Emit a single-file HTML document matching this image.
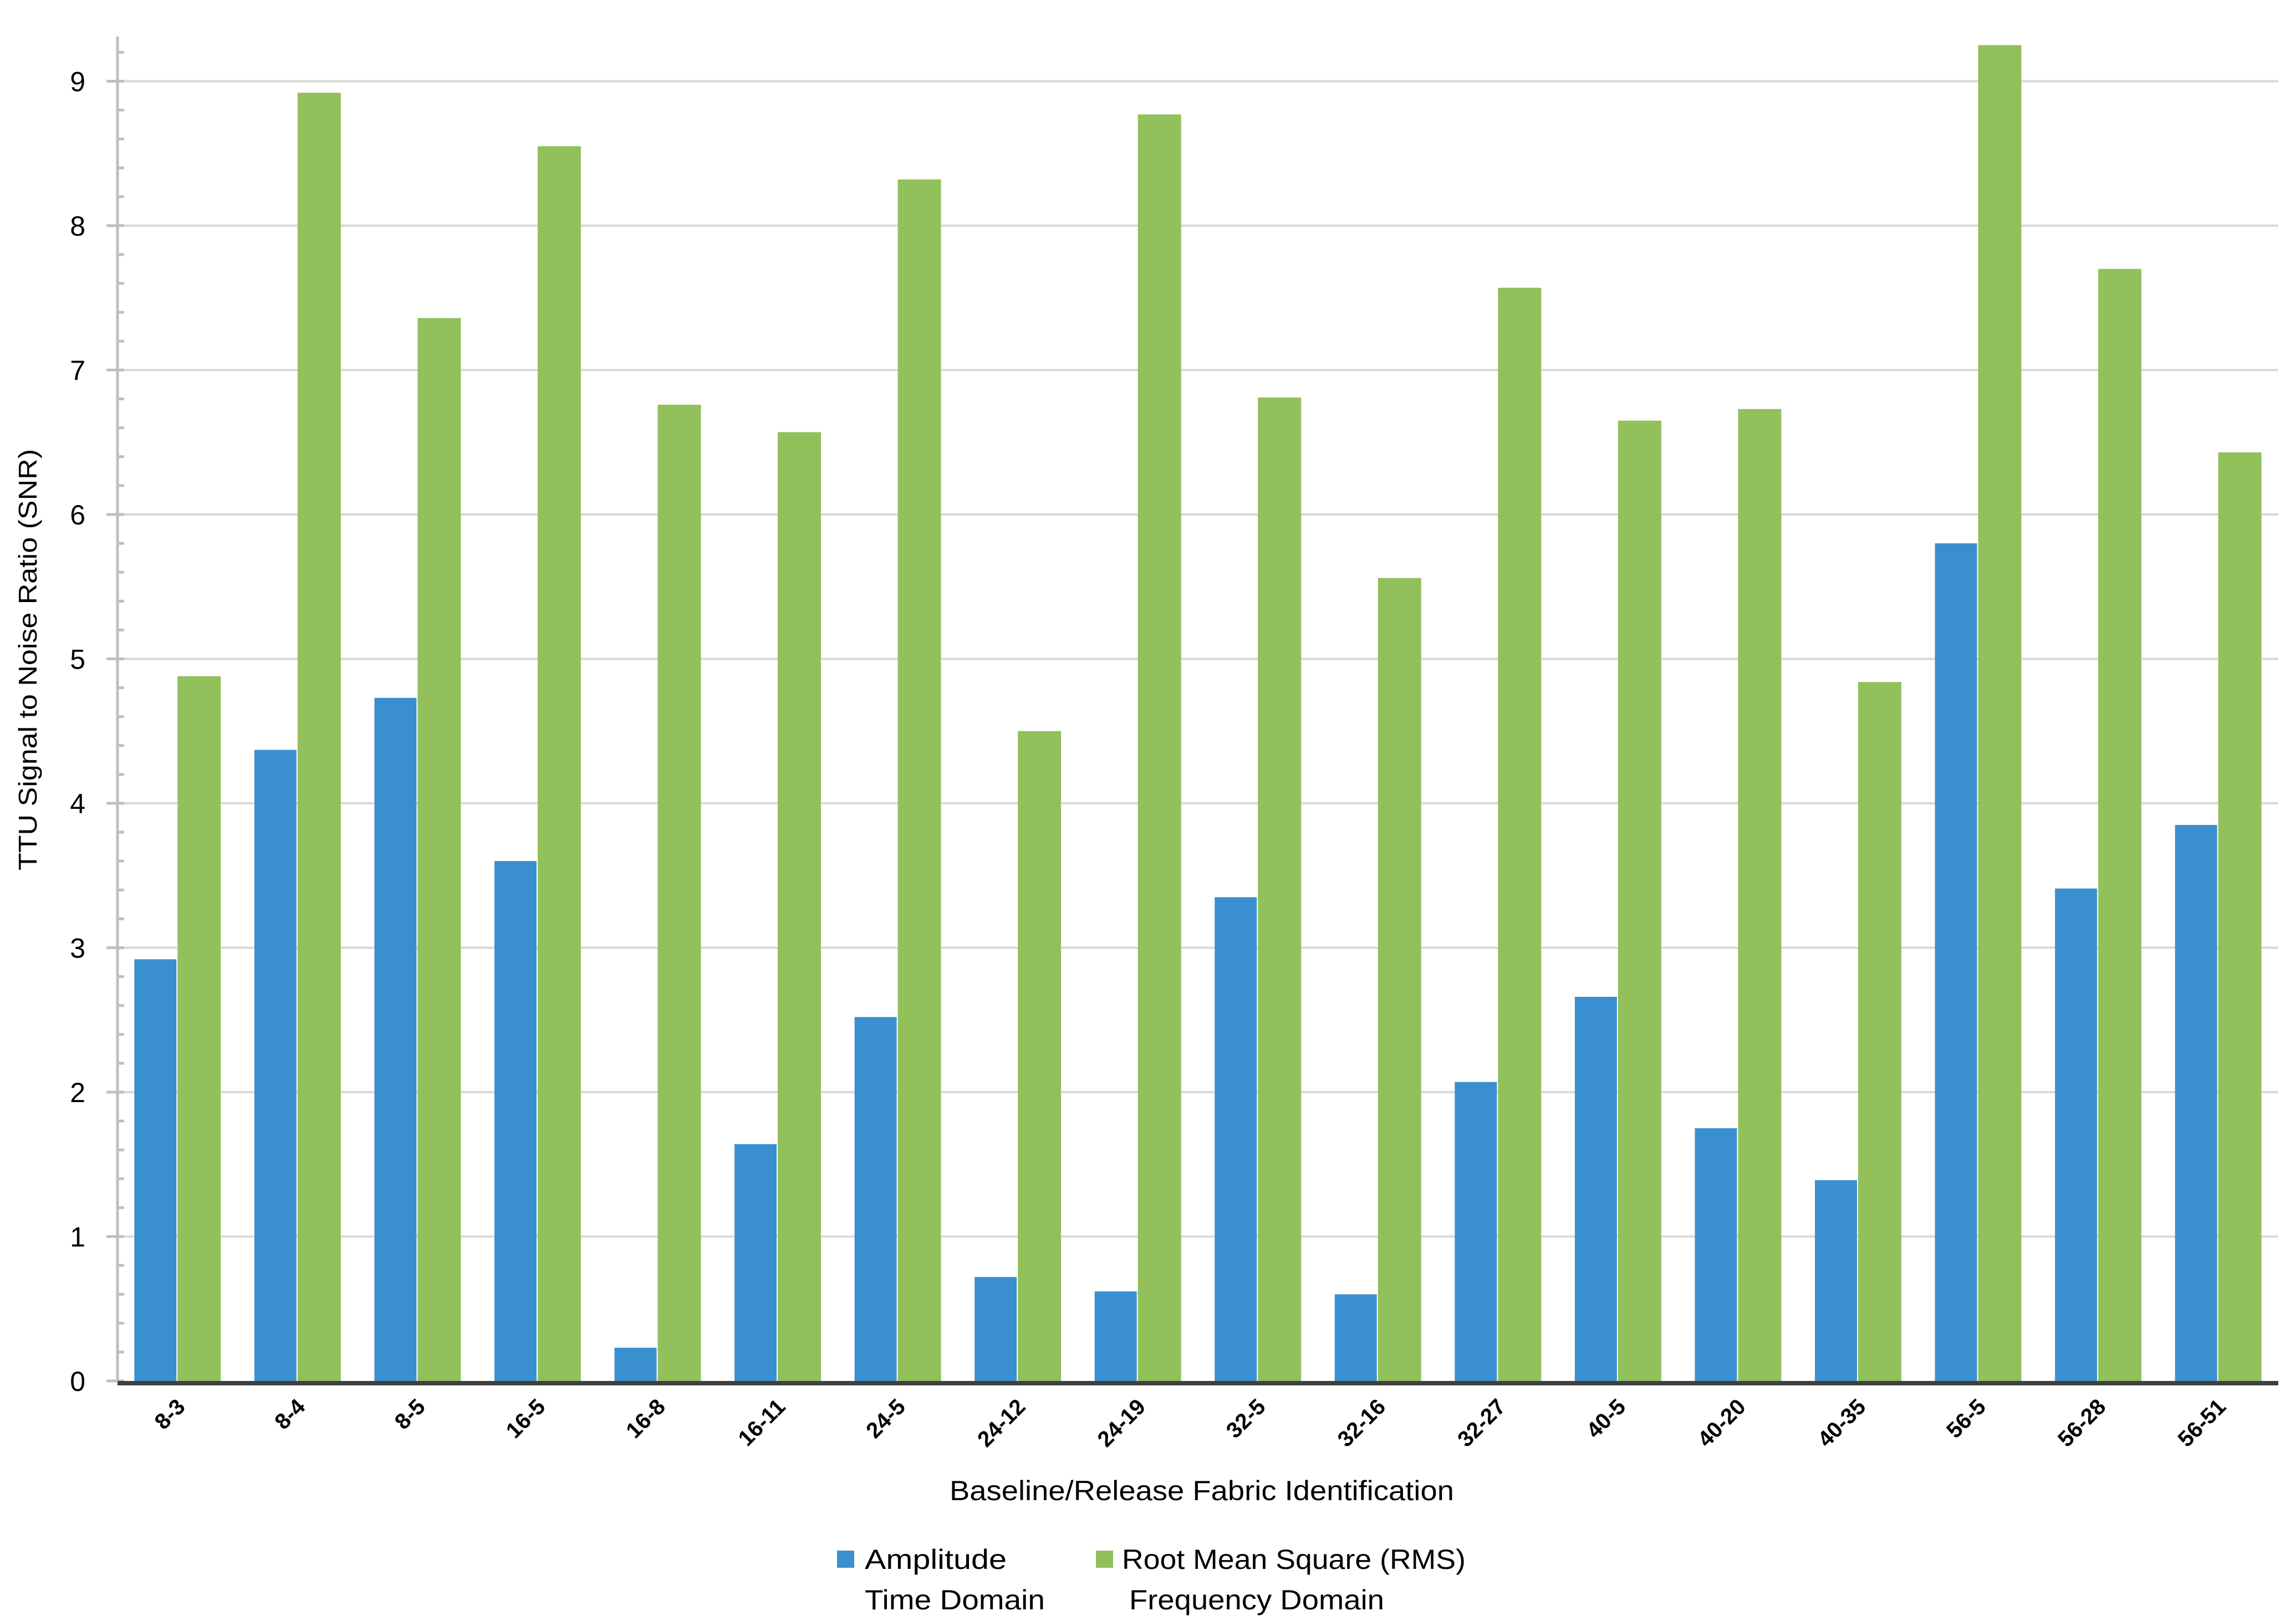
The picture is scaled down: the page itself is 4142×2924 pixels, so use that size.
<!DOCTYPE html>
<html><head><meta charset="utf-8"><style>
html,body{margin:0;padding:0;background:#fff;}
svg{display:block;font-family:"Liberation Sans",sans-serif;}
</style></head><body>
<svg id="chart" width="4142" height="2924" viewBox="0 0 4142 2924" xmlns="http://www.w3.org/2000/svg">
<rect width="4142" height="2924" fill="#fff"/>
<g id="grid"></g>
<g id="bars"></g>
<g id="axes"></g>
<text x="0" y="0" transform="translate(66,1190) rotate(-90)" text-anchor="middle" font-size="46" fill="#000" textLength="760" lengthAdjust="spacingAndGlyphs">TTU Signal to Noise Ratio (SNR)</text>
<text x="2168" y="2706" text-anchor="middle" font-size="50" fill="#000" textLength="910" lengthAdjust="spacingAndGlyphs">Baseline/Release Fabric Identification</text>
<g>
<g>
<rect x="1510" y="2797" width="31" height="31" fill="#3a8fd0"/>
<text x="1560" y="2830" font-size="50" textLength="256" lengthAdjust="spacingAndGlyphs">Amplitude</text>
<text x="1560" y="2903" font-size="50" textLength="325" lengthAdjust="spacingAndGlyphs">Time Domain</text>
</g>
<g>
<rect x="1977" y="2797" width="31" height="31" fill="#92c05a"/>
<text x="2024" y="2830" font-size="50" textLength="620" lengthAdjust="spacingAndGlyphs">Root Mean Square (RMS)</text>
<text x="2037" y="2903" font-size="50" textLength="460" lengthAdjust="spacingAndGlyphs">Frequency Domain</text>
</g>
</g>
</svg>
<script>
const categories = ["8-3","8-4","8-5","16-5","16-8","16-11","24-5","24-12","24-19","32-5","32-16","32-27","40-5","40-20","40-35","56-5","56-28","56-51"];
const amplitudeValues = [2.92,4.37,4.73,3.6,0.23,1.64,2.52,0.72,0.62,3.35,0.6,2.07,2.66,1.75,1.39,5.8,3.41,3.85];
const rmsValues = [4.88,8.92,7.36,8.55,6.76,6.57,8.32,4.5,8.77,6.81,5.56,7.57,6.65,6.73,4.84,9.25,7.7,6.43];
const yTicks = [0,1,2,3,4,5,6,7,8,9];

const NS = "http://www.w3.org/2000/svg";
const plotL = 212, plotR = 4110, zeroY = 2491, unit = 260.5, topY = 66;
function yScale(v){ return zeroY - v*unit; }
const catW = (plotR - plotL)/categories.length;
function xCenter(i){ return plotL + catW*(i+0.5); }
const barW = catW*0.36;
function mk(tag, attrs, parent){ const e=document.createElementNS(NS,tag); for(const k in attrs) e.setAttribute(k,attrs[k]); parent.appendChild(e); return e; }

const grid = document.getElementById('grid');
const bars = document.getElementById('bars');
const axes = document.getElementById('axes');

yTicks.forEach(t=>{
  if(t>0){
    const g = mk('line',{x1:plotL,x2:plotR,y1:yScale(t),y2:yScale(t),stroke:'#d9d9d9','stroke-width':4},grid);
    
    
  }
  const tk = mk('line',{x1:plotL-20,x2:plotL+12,y1:yScale(t),y2:yScale(t),stroke:'#bfbfbf','stroke-width':5},axes);
  
  
  const lb = mk('text',{x:154,y:yScale(t)+18,'text-anchor':'end','font-size':50,fill:'#000'},axes);
  lb.textContent = t;
  
  
  for(let m=1;m<5;m++){
    const v=t+m*0.2;
    if(yScale(v)<topY) break;
    const mt = mk('line',{x1:plotL,x2:plotL+12,y1:yScale(v),y2:yScale(v),stroke:'#bfbfbf','stroke-width':5},axes);
    
    
  }
});
const ya = mk('line',{x1:plotL,x2:plotL,y1:topY,y2:zeroY,stroke:'#bfbfbf','stroke-width':5},axes);



categories.forEach((c,i)=>{
  const cx = xCenter(i);
  const a = amplitudeValues[i], r = rmsValues[i];
  const b1 = mk('rect',{x:cx-barW,y:yScale(a),width:barW-2,height:zeroY-yScale(a),fill:'#3a8fd0'},bars);
  
  
  const b2 = mk('rect',{x:cx,y:yScale(r),width:barW,height:zeroY-yScale(r),fill:'#92c05a'},bars);
  
  
  const lb = mk('text',{x:0,y:0,'text-anchor':'end','font-size':40,'font-weight':'bold',fill:'#000',transform:'translate('+(cx+16)+',2540) rotate(-45)'},axes);
  lb.textContent = c;
  
  
});
const xa = mk('line',{x1:plotL,x2:plotR,y1:zeroY+4,y2:zeroY+4,stroke:'#404040','stroke-width':8},axes);


</script>
</body></html>
